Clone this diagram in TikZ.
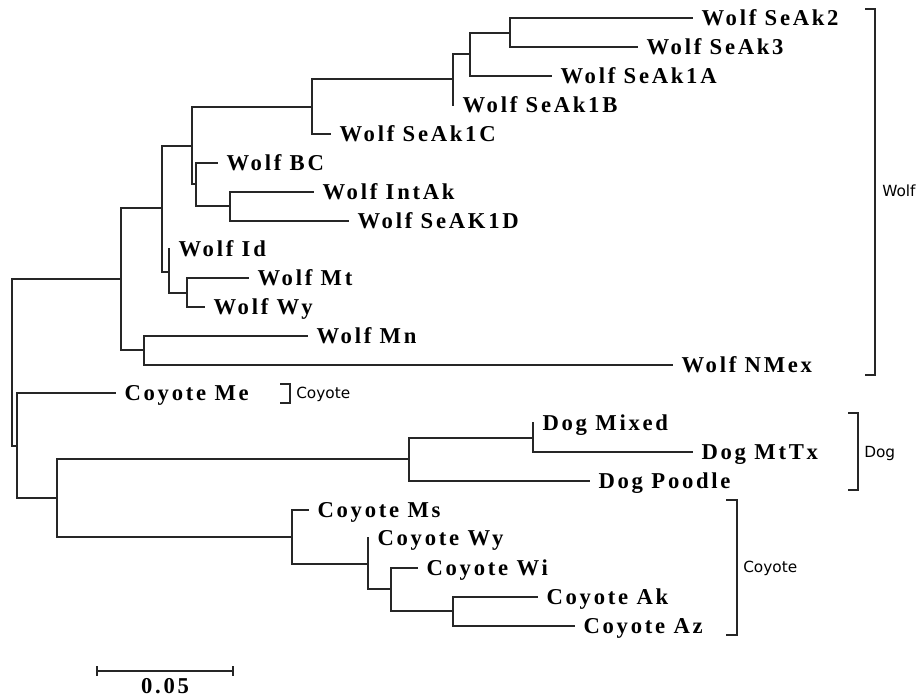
\documentclass[tikz,border=0pt]{standalone}
\usepackage{fontspec}
\setmainfont{Liberation Serif}
\newfontfamily\taxonfont[LetterSpace=12]{Liberation Serif}
\newfontfamily\groupfont{DejaVu Sans}

\tikzset{
    branch/.style={line width=.9pt, black!85, line cap=rect},
    taxon/.style={anchor=base west, inner sep=0pt, xshift=7pt, yshift=-5.5pt,
        font=\taxonfont\bfseries\fontsize{17}{20}\selectfont},
    group/.style={anchor=base west, inner sep=0pt,
        font=\groupfont\fontsize{11.5}{13}\selectfont},
}

\begin{document}
\begin{tikzpicture}[x=.75pt,y=-.75pt]
    \useasboundingbox (0,0) rectangle (921,697);
    % internal nodes (x = depth, y = where the parent branch comes in)
    \coordinate (root) at (12,362);
    \coordinate (wolf) at (121,279);
    \coordinate (wA) at (162,208);
    \coordinate (wB) at (192,146);
    \coordinate (wSe) at (312,107);
    \coordinate (wSe1) at (453,79);
    \coordinate (wSe2) at (470,54);
    \coordinate (wSe3) at (510,33);
    \coordinate (wBC) at (196,184);
    \coordinate (wInt) at (230,206);
    \coordinate (wId) at (169,272);
    \coordinate (wMt) at (187,293);
    \coordinate (wMn) at (144,350);
    \coordinate (cMe) at (17,446);
    \coordinate (cd) at (57,498);
    \coordinate (dog) at (409,459);
    \coordinate (dogA) at (533,438);
    \coordinate (coy) at (292,537);
    \coordinate (coyA) at (368,564);
    \coordinate (coyB) at (391,589);
    \coordinate (coyC) at (453,611);
    % tips
    \coordinate (tSeAk2) at (692,18);
    \coordinate (tSeAk3) at (637,47);
    \coordinate (tSeAk1A) at (551,76);
    \coordinate (tSeAk1B) at (453,105);
    \coordinate (tSeAk1C) at (330,134);
    \coordinate (tBC) at (217,163);
    \coordinate (tIntAk) at (313,192);
    \coordinate (tSeAK1D) at (348,221);
    \coordinate (tId) at (169,249);
    \coordinate (tMt) at (248,278);
    \coordinate (tWy) at (204,307);
    \coordinate (tMn) at (307,336);
    \coordinate (tNMex) at (672,365);
    \coordinate (tCMe) at (115,393);
    \coordinate (tMixed) at (533,423);
    \coordinate (tMtTx) at (692,452);
    \coordinate (tPoodle) at (589,481);
    \coordinate (tCMs) at (308,510);
    \coordinate (tCWy) at (368,538);
    \coordinate (tCWi) at (417,568);
    \coordinate (tCAk) at (537,597);
    \coordinate (tCAz) at (574,626);

    % branches
    \draw[branch] (root) |- (wolf) (root) |- (cMe);
    \draw[branch] (wolf) |- (wA) (wolf) |- (wMn);
    \draw[branch] (wA) |- (wB) (wA) |- (wId);
    \draw[branch] (wB) |- (wSe) (wB) |- (wBC);
    \draw[branch] (wSe) |- (wSe1) (wSe) |- (tSeAk1C);
    \draw[branch] (wSe1) |- (wSe2) (wSe1) |- (tSeAk1B);
    \draw[branch] (wSe2) |- (wSe3) (wSe2) |- (tSeAk1A);
    \draw[branch] (wSe3) |- (tSeAk2) (wSe3) |- (tSeAk3);
    \draw[branch] (wBC) |- (tBC) (wBC) |- (wInt);
    \draw[branch] (wInt) |- (tIntAk) (wInt) |- (tSeAK1D);
    \draw[branch] (wId) |- (tId) (wId) |- (wMt);
    \draw[branch] (wMt) |- (tMt) (wMt) |- (tWy);
    \draw[branch] (wMn) |- (tMn) (wMn) |- (tNMex);
    \draw[branch] (cMe) |- (tCMe) (cMe) |- (cd);
    \draw[branch] (cd) |- (dog) (cd) |- (coy);
    \draw[branch] (dog) |- (dogA) (dog) |- (tPoodle);
    \draw[branch] (dogA) |- (tMixed) (dogA) |- (tMtTx);
    \draw[branch] (coy) |- (tCMs) (coy) |- (coyA);
    \draw[branch] (coyA) |- (tCWy) (coyA) |- (coyB);
    \draw[branch] (coyB) |- (tCWi) (coyB) |- (coyC);
    \draw[branch] (coyC) |- (tCAk) (coyC) |- (tCAz);

    % taxa
    \node[taxon] (lSeAk2) at (tSeAk2) {Wolf SeAk2};
    \node[taxon] (lSeAk3) at (tSeAk3) {Wolf SeAk3};
    \node[taxon] (lSeAk1A) at (tSeAk1A) {Wolf SeAk1A};
    \node[taxon] (lSeAk1B) at (tSeAk1B) {Wolf SeAk1B};
    \node[taxon] (lSeAk1C) at (tSeAk1C) {Wolf SeAk1C};
    \node[taxon] (lBC) at (tBC) {Wolf BC};
    \node[taxon] (lIntAk) at (tIntAk) {Wolf IntAk};
    \node[taxon] (lSeAK1D) at (tSeAK1D) {Wolf SeAK1D};
    \node[taxon] (lId) at (tId) {Wolf Id};
    \node[taxon] (lMt) at (tMt) {Wolf Mt};
    \node[taxon] (lWy) at (tWy) {Wolf Wy};
    \node[taxon] (lMn) at (tMn) {Wolf Mn};
    \node[taxon] (lNMex) at (tNMex) {Wolf NMex};
    \node[taxon] (lCMe) at (tCMe) {Coyote Me};
    \node[taxon] (lMixed) at (tMixed) {Dog Mixed};
    \node[taxon] (lMtTx) at (tMtTx) {Dog MtTx};
    \node[taxon] (lPoodle) at (tPoodle) {Dog Poodle};
    \node[taxon] (lCMs) at (tCMs) {Coyote Ms};
    \node[taxon] (lCWy) at (tCWy) {Coyote Wy};
    \node[taxon] (lCWi) at (tCWi) {Coyote Wi};
    \node[taxon] (lCAk) at (tCAk) {Coyote Ak};
    \node[taxon] (lCAz) at (tCAz) {Coyote Az};

    % group brackets
    \draw[branch] (866,9) -| (875,375) -- (866,375);
    \node[group] (gWolf) at (882,196) {Wolf};
    \draw[branch] (281,384) -| (290,403) -- (281,403);
    \node[group] (gCoyMe) at (296,398) {Coyote};
    \draw[branch] (849,413) -| (858,490) -- (849,490);
    \node[group] (gDog) at (864,457) {Dog};
    \draw[branch] (727,500) -| (737,635) -- (727,635);
    \node[group] (gCoy) at (743,572) {Coyote};

    % scale bar
    \coordinate (sbL) at (97,671);
    \coordinate (sbR) at (233,671);
    \draw[branch] (sbL) -- (sbR);
    \draw[branch] ([yshift=3.4pt]sbL) -- ([yshift=-3.4pt]sbL);
    \draw[branch] ([yshift=3.4pt]sbR) -- ([yshift=-3.4pt]sbR);
    \node[anchor=base, inner sep=0pt, font=\taxonfont\bfseries\fontsize{17}{20}\selectfont]
        (sbText) at (165,693) {0.05};
\end{tikzpicture}
\end{document}
